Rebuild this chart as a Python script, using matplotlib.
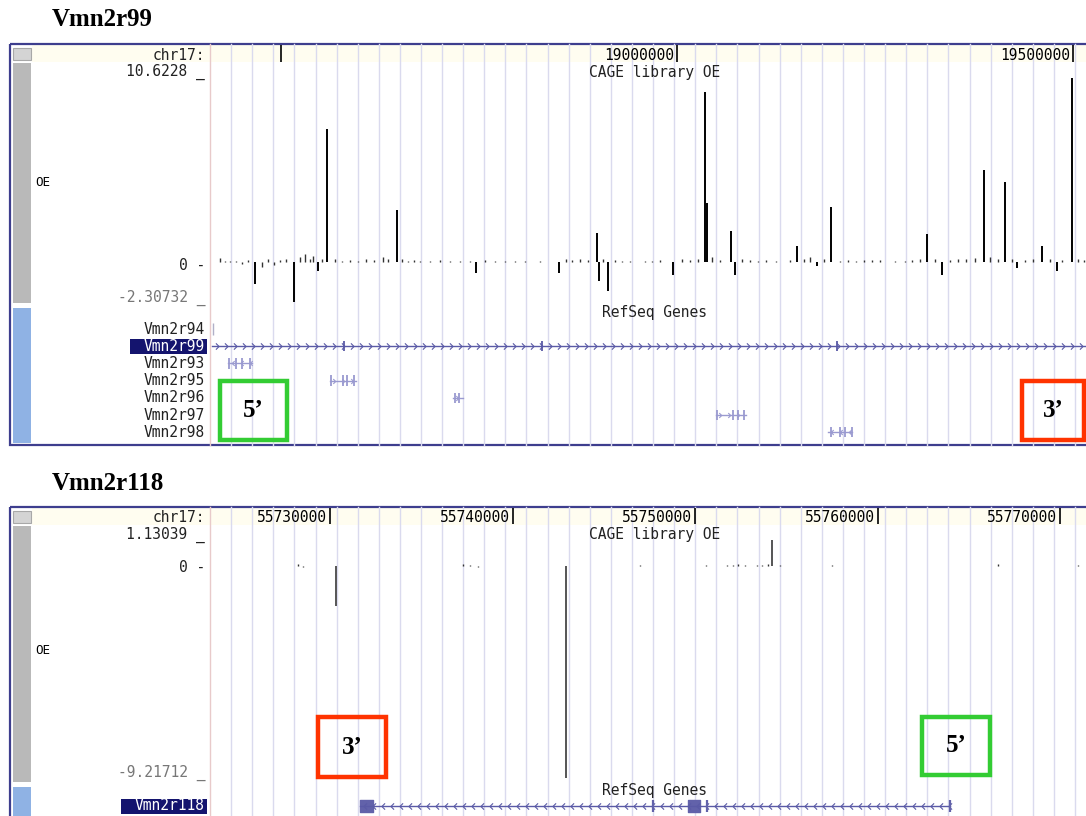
#!/usr/bin/env python
# -*- coding: utf-8 -*-
"""CAGE OE signal around Vmn2r99 and Vmn2r118 (UCSC style browser view)."""
import numpy as np
import matplotlib
matplotlib.use("Agg")
import matplotlib.pyplot as plt
from matplotlib.patches import Rectangle
from matplotlib.path import Path

W, H = 1086, 816

# ---- top view: chr17, positions in Mb
top_range = (18.41035, 19.51640)
top_ticks = [18.5, 19.0, 19.5]
top_tick_labels = ["", "19000000", "19500000"]
top_vmin, top_vmax = -2.30732, 10.6228

top_peak_mb = [18.4672, 18.5164, 18.5467, 18.5581, 18.6465, 18.7462, 18.8510,
               18.8990, 18.9015, 18.9129, 18.9949, 19.0353, 19.0379, 19.0681,
               19.0732, 19.1515, 19.1768, 19.1944, 19.3159, 19.3346, 19.3876,
               19.4141, 19.4293, 19.4608, 19.4798, 19.4987]
top_peak_val = [-1.25, -2.30732, -0.5, 7.7, 3.0, -0.65, -0.65,
                1.7, -1.1, -1.7, -0.75, 9.8, 3.4, 1.8,
                -0.75, 0.95, -0.25, 3.15, 1.6, -0.75, 5.3,
                4.6, -0.35, 0.9, -0.5, 10.6228]

top_bg_mb = [18.4230, 18.4293, 18.4356, 18.4432, 18.4508, 18.4583, 18.4760,
             18.4836, 18.4912, 18.4987, 18.5063, 18.5240, 18.5303, 18.5366,
             18.5404, 18.5518, 18.5682, 18.5770, 18.5871, 18.5972, 18.6073,
             18.6174, 18.6288, 18.6351, 18.6528, 18.6603, 18.6679, 18.6755,
             18.6881, 18.7008, 18.7134, 18.7260, 18.7386, 18.7576, 18.7702,
             18.7828, 18.7954, 18.8081, 18.8270, 18.8598, 18.8674, 18.8775,
             18.8876, 18.9066, 18.9217, 18.9306, 18.9406, 18.9596, 18.9684,
             18.9785, 19.0063, 19.0164, 19.0265, 19.0441, 19.0542, 19.0820,
             19.0921, 19.1022, 19.1123, 19.1249, 19.1426, 19.1603, 19.1679,
             19.1856, 19.2058, 19.2159, 19.2260, 19.2361, 19.2462, 19.2563,
             19.2753, 19.2879, 19.2967, 19.3068, 19.3257, 19.3447, 19.3548,
             19.3649, 19.3762, 19.3952, 19.4053, 19.4229, 19.4394, 19.4495,
             19.4709, 19.4861, 19.5063, 19.5139]
top_bg_val = [0.25, 0.05, 0.05, 0.08, -0.1, 0.1, -0.3,
              0.15, -0.15, 0.1, 0.2, 0.3, 0.45, 0.2,
              0.35, 0.15, 0.2, 0.05, 0.1, 0.08, 0.15,
              0.1, 0.3, 0.15, 0.15, 0.08, 0.1, 0.05,
              0.05, 0.1, 0.05, 0.08, 0.05, 0.1, 0.05,
              0.08, 0.05, 0.05, 0.05, 0.2, 0.1, 0.15,
              0.1, 0.15, 0.1, 0.08, 0.05, 0.05, 0.08,
              0.1, 0.15, 0.1, 0.2, 0.3, 0.1, 0.15,
              0.1, 0.08, 0.1, 0.05, 0.1, 0.15, 0.3,
              0.2, 0.05, 0.1, 0.08, 0.1, 0.12, 0.1,
              0.05, 0.08, 0.1, 0.15, 0.2, 0.1, 0.15,
              0.2, 0.25, 0.3, 0.2, 0.15, 0.1, 0.2,
              0.15, 0.1, 0.15, 0.1]

top_genes = ["Vmn2r94", "Vmn2r99", "Vmn2r93", "Vmn2r95", "Vmn2r96", "Vmn2r97", "Vmn2r98"]
top_gene_start = [18.41288, 18.41288, 18.43308, 18.56186, 18.71716, 19.04921, 19.19064]
top_gene_end = [18.41414, 19.51640, 18.46338, 18.59469, 18.72979, 19.08710, 19.22094]
top_gene_strand = ["+", "+", "-", "+", "+", "+", "-"]
top_gene_exons = [[18.41351],
                  [18.57954, 18.82953, 19.20199],
                  [18.43434, 18.44318, 18.45075, 18.46085],
                  [18.56313, 18.57828, 18.58333, 18.59217],
                  [18.71969, 18.72474],
                  [19.05048, 19.07068, 19.07699, 19.08457],
                  [19.19441, 19.20577, 19.21208, 19.22093]]

# ---- bottom view
bot_range = (55.723425, 55.771421)
bot_ticks = [55.73, 55.74, 55.75, 55.76, 55.77]
bot_tick_labels = ["55730000", "55740000", "55750000", "55760000", "55770000"]
bot_vmin, bot_vmax = -9.21712, 1.13039

bot_peak_mb = [55.730329, 55.742930, 55.754217]
bot_peak_val = [-1.75, -9.21712, 1.13039]
bot_bg_mb = [55.728247, 55.728520, 55.737287, 55.737670, 55.738109, 55.746985,
             55.750601, 55.751751, 55.752080, 55.752354, 55.752738, 55.753395,
             55.753669, 55.753998, 55.754655, 55.757504, 55.766600, 55.771000]
bot_bg_val = [0.08, -0.05, 0.08, 0.05, -0.05, 0.06,
              0.05, 0.06, 0.05, 0.08, 0.05, 0.06,
              0.05, 0.1, 0.05, 0.06, 0.08, 0.05]

bot_gene = "Vmn2r118"
bot_gene_start, bot_gene_end = 55.731645, 55.763977
bot_box_start = [55.731645, 55.749619]
bot_box_len = [0.000712, 0.000658]
bot_exon_ticks = [55.747701, 55.750661, 55.763977]

MONO = "DejaVu Sans Mono"
FRAME = "#3e3e8e"
GRID = "#dadaee"
GENE = "#5a5aa6"
GENE_LIGHT = "#9a9ad0"


def px_axes(fig, x0, y0, x1, y1):
    """Axes placed with pixel box (top-left origin)."""
    ax = fig.add_axes([x0 / W, 1 - y1 / H, (x1 - x0) / W, (y1 - y0) / H])
    ax.set_facecolor("none")
    ax.axis("off")
    return ax


def chevrons(ax, start, end, y, strand, xr, color, size=4.5):
    step = (xr[1] - xr[0]) / 876.0 * 9
    pos = np.arange(start + step / 2, end, step)
    if strand == "+":
        verts = [(-0.5, 1.0), (0.5, 0.0), (-0.5, -1.0)]
    else:
        verts = [(0.5, 1.0), (-0.5, 0.0), (0.5, -1.0)]
    mk = Path(verts, [Path.MOVETO, Path.LINETO, Path.LINETO])
    ax.plot(pos, np.full(len(pos), y), ls="none", marker=mk, ms=size,
            mec=color, mfc="none", mew=0.8)


def draw_ruler(fig, y0, y1, xr, ticks, labels):
    ax = px_axes(fig, 210, y0, 1086, y1)
    ax.set_xlim(xr)
    ax.set_ylim(1, 0)
    ax.vlines(ticks, 0, 1, color="black", lw=1.2)
    for t, lab in zip(ticks, labels):
        if lab:
            ax.annotate(lab, (t, 0.6), xytext=(-2, 0), textcoords="offset points",
                        ha="right", va="center", family=MONO, fontsize=10.5)


def draw_signal(fig, y0, y1, xr, vmin, vmax, bg_x, bg_y, pk_x, pk_y, pk_color):
    ax = px_axes(fig, 210, y0, 1086, y1)
    ax.set_xlim(xr)
    ax.set_ylim(vmin, vmax)
    ax.vlines(bg_x, 0, bg_y, color="#333333", lw=1.0)
    ax.vlines(pk_x, 0, pk_y, color=pk_color, lw=1.4)
    return ax


def main():
    fig = plt.figure(figsize=(W / 100, H / 100), dpi=100)

    bg = fig.add_axes([0, 0, 1, 1])
    bg.set_xlim(0, W)
    bg.set_ylim(H, 0)
    bg.axis("off")

    # panel furniture
    for (top, bottom, gray_end, blue_start, title) in [(44, 445, 303, 308, "Vmn2r99"),
                                                       (507, 830, 782, 787, "Vmn2r118")]:
        bg.add_patch(Rectangle((32, top + 1), W - 32, 17, color="#fffdf0", lw=0))
        for gx in np.arange(210 + 21.1, W, 21.1):
            bg.plot([gx, gx], [top, bottom], color=GRID, lw=1.0)
        bg.plot([210, 210], [top, bottom], color="#e8caca", lw=1.0)
        bg.add_patch(Rectangle((10, top), W + 10, bottom - top, fill=False,
                               ec=FRAME, lw=1.6))
        bg.add_patch(Rectangle((13, top + 4), 18, 12, fc="#d4d4d4", ec="#a8a8a8", lw=0.8))
        bg.add_patch(Rectangle((13, top + 19), 18, gray_end - top - 19, color="#b9b9b9", lw=0))
        bg.add_patch(Rectangle((13, blue_start), 18, bottom - blue_start - 2,
                               color="#8fb2e4", lw=0))
        bg.text(52, top - 24, title, family="Liberation Serif", weight="bold",
                fontsize=18, ha="left", va="center")

    txt = dict(family=MONO, fontsize=10.5, ha="right", va="center", color="#222222")
    # top panel labels
    bg.text(205, 56, "chr17:", **txt)
    bg.text(205, 72, "10.6228 _", **txt)
    bg.text(205, 265, "0 -", **txt)
    bg.text(205, 298, "-2.30732 _", **dict(txt, color="#777777"))
    bg.text(35, 182, "OE", family=MONO, fontsize=9, ha="left", va="center")
    bg.text(655, 72, "CAGE library OE", **dict(txt, ha="center"))
    bg.text(655, 312, "RefSeq Genes", **dict(txt, ha="center"))
    for i, name in enumerate(top_genes):
        yy = 329 + 17.2 * i
        if name == "Vmn2r99":
            bg.add_patch(Rectangle((130, yy - 7.5), 77, 15, color="#14146e", lw=0))
            bg.text(205, yy, name, **dict(txt, color="white"))
        else:
            bg.text(205, yy, name, **txt)

    # bottom panel labels
    bg.text(205, 517, "chr17:", **txt)
    bg.text(205, 535, "1.13039 _", **txt)
    bg.text(205, 568, "0 -", **txt)
    bg.text(205, 773, "-9.21712 _", **dict(txt, color="#777777"))
    bg.text(35, 650, "OE", family=MONO, fontsize=9, ha="left", va="center")
    bg.text(655, 535, "CAGE library OE", **dict(txt, ha="center"))
    bg.text(655, 790, "RefSeq Genes", **dict(txt, ha="center"))
    bg.add_patch(Rectangle((121, 799), 86, 15, color="#14146e", lw=0))
    bg.text(205, 806, bot_gene, **dict(txt, color="white"))

    # rulers
    draw_ruler(fig, 45, 62, top_range, top_ticks, top_tick_labels)
    draw_ruler(fig, 508, 524, bot_range, bot_ticks, bot_tick_labels)

    # signal tracks
    draw_signal(fig, 78, 302, top_range, top_vmin, top_vmax,
                top_bg_mb, top_bg_val, top_peak_mb, top_peak_val, "black")
    draw_signal(fig, 540, 778, bot_range, bot_vmin, bot_vmax,
                bot_bg_mb, bot_bg_val, bot_peak_mb, bot_peak_val, "#555555")

    # top gene track
    gax = px_axes(fig, 210, 320.4, 1086, 440.8)
    gax.set_xlim(top_range)
    gax.set_ylim(6.5, -0.5)
    for i, name in enumerate(top_genes):
        col = GENE if name == "Vmn2r99" else GENE_LIGHT
        s, e = top_gene_start[i], top_gene_end[i]
        if e - s > 0.005:
            gax.plot([s, e], [i, i], color=col, lw=1.0)
            chevrons(gax, s, e, i, top_gene_strand[i], top_range, col,
                     size=4.5 if name == "Vmn2r99" else 3.5)
            gax.vlines(top_gene_exons[i], i - 0.3, i + 0.3, color=col, lw=1.3)
        else:
            gax.vlines(top_gene_exons[i], i - 0.35, i + 0.35, color="#b0b0c8", lw=1.0)

    # bottom gene track
    bax = px_axes(fig, 210, 798, 1086, 814)
    bax.set_xlim(bot_range)
    bax.set_ylim(-0.5, 0.5)
    bax.plot([bot_gene_start, bot_gene_end], [0, 0], color=GENE, lw=1.0)
    chevrons(bax, bot_gene_start, bot_gene_end, 0, "-", bot_range, GENE, size=4.5)
    bax.broken_barh(list(zip(bot_box_start, bot_box_len)), (-0.38, 0.76), color="#6262aa")
    bax.vlines(bot_exon_ticks, -0.38, 0.38, color="#6262aa", lw=1.6)

    # 5'/3' orientation boxes
    marks = [(220, 381, 287, 440, "5\u2019", "#33cc33"),
             (1022, 381, 1084, 440, "3\u2019", "#ff3300"),
             (318, 717, 386, 777, "3\u2019", "#ff3300"),
             (922, 717, 990, 775, "5\u2019", "#33cc33")]
    for x0, y0, x1, y1, lab, col in marks:
        bg.add_patch(Rectangle((x0, y0), x1 - x0, y1 - y0, fill=False, ec=col, lw=3.2,
                               zorder=5))
        bg.text((x0 + x1) / 2, (y0 + y1) / 2, lab, family="Liberation Serif",
                weight="bold", fontsize=18, ha="center", va="center", zorder=6)

    bg.set_zorder(0)
    fig.savefig("out.png", dpi=100)


if __name__ == '__main__':
    main()
